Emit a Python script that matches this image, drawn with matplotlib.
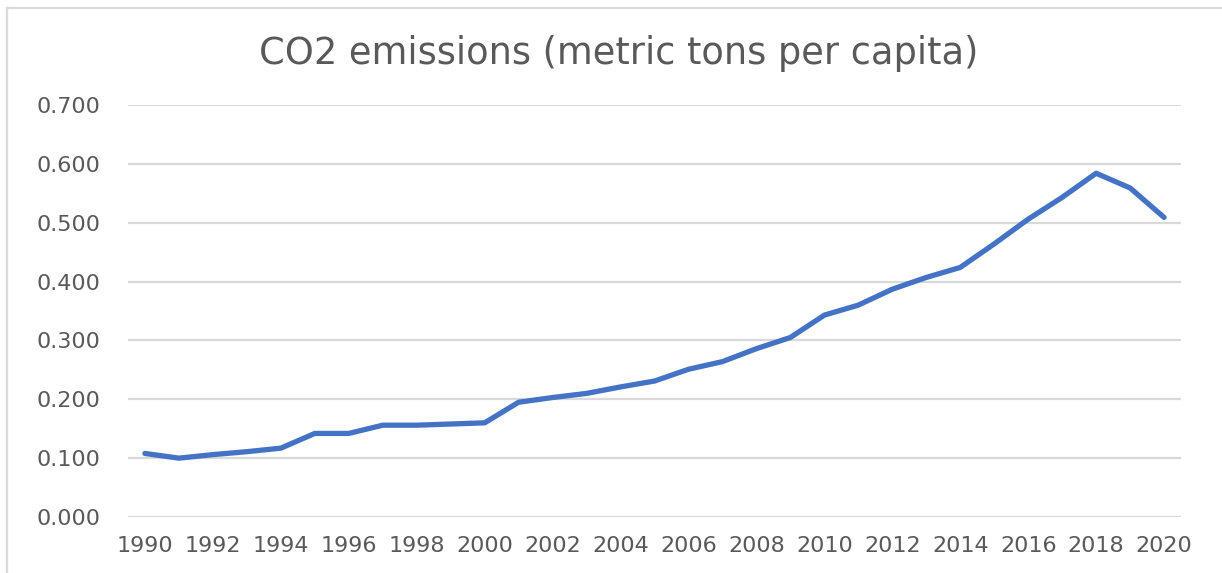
import numpy as np
import matplotlib
matplotlib.use("Agg")
import matplotlib.pyplot as plt
from matplotlib.lines import Line2D

# values
years = list(range(1990, 2021))
co2 = [0.108, 0.100, 0.106, 0.111, 0.117, 0.142, 0.142, 0.156, 0.156, 0.158,
       0.160, 0.195, 0.203, 0.210, 0.221, 0.231, 0.251, 0.264, 0.286, 0.305,
       0.343, 0.360, 0.387, 0.407, 0.424, 0.464, 0.506, 0.543, 0.584, 0.559,
       0.509]
yticks = [0.0, 0.1, 0.2, 0.3, 0.4, 0.5, 0.6, 0.7]
title = "CO2 emissions (metric tons per capita)"

text_col = "#595959"
grid_col = "#d9d9d9"

plt.rcParams["font.family"] = ["DejaVu Sans"]

fig = plt.figure(figsize=(12.22, 5.73), dpi=100)
ax = fig.add_axes([0.1047, 0.0977, 0.8618, 0.7191])

ax.plot(years, co2, color="#4472C4", lw=3.8, solid_capstyle="round",
        solid_joinstyle="round", zorder=3)

ax.set_xlim(years[0] - 0.5, years[-1] + 0.5)
ax.set_ylim(0, 0.7)
ax.set_yticks(yticks)
ax.set_yticklabels(["%.3f" % v for v in yticks])
ax.set_xticks(years[::2])
ax.set_xticklabels([str(y) for y in years[::2]])

ax.grid(axis="y", color=grid_col, lw=1.6)
ax.set_axisbelow(True)
for s in ax.spines.values():
    s.set_visible(False)
ax.tick_params(axis="y", length=0, pad=20, labelsize=16, labelcolor=text_col)
ax.tick_params(axis="x", length=0, pad=14, labelsize=16, labelcolor=text_col)

fig.text(0.5065, 0.906, title, ha="center", va="center",
         fontsize=26.5, color=text_col)

# outer chart border (only top and left visible in the crop)
fig.add_artist(Line2D([7 / 1222, 1], [1 - 8 / 573, 1 - 8 / 573],
                      transform=fig.transFigure, color=grid_col, lw=1.6))
fig.add_artist(Line2D([7 / 1222, 7 / 1222], [0, 1 - 8 / 573],
                      transform=fig.transFigure, color=grid_col, lw=1.6))

fig.savefig("out.png", dpi=100, facecolor="white")
